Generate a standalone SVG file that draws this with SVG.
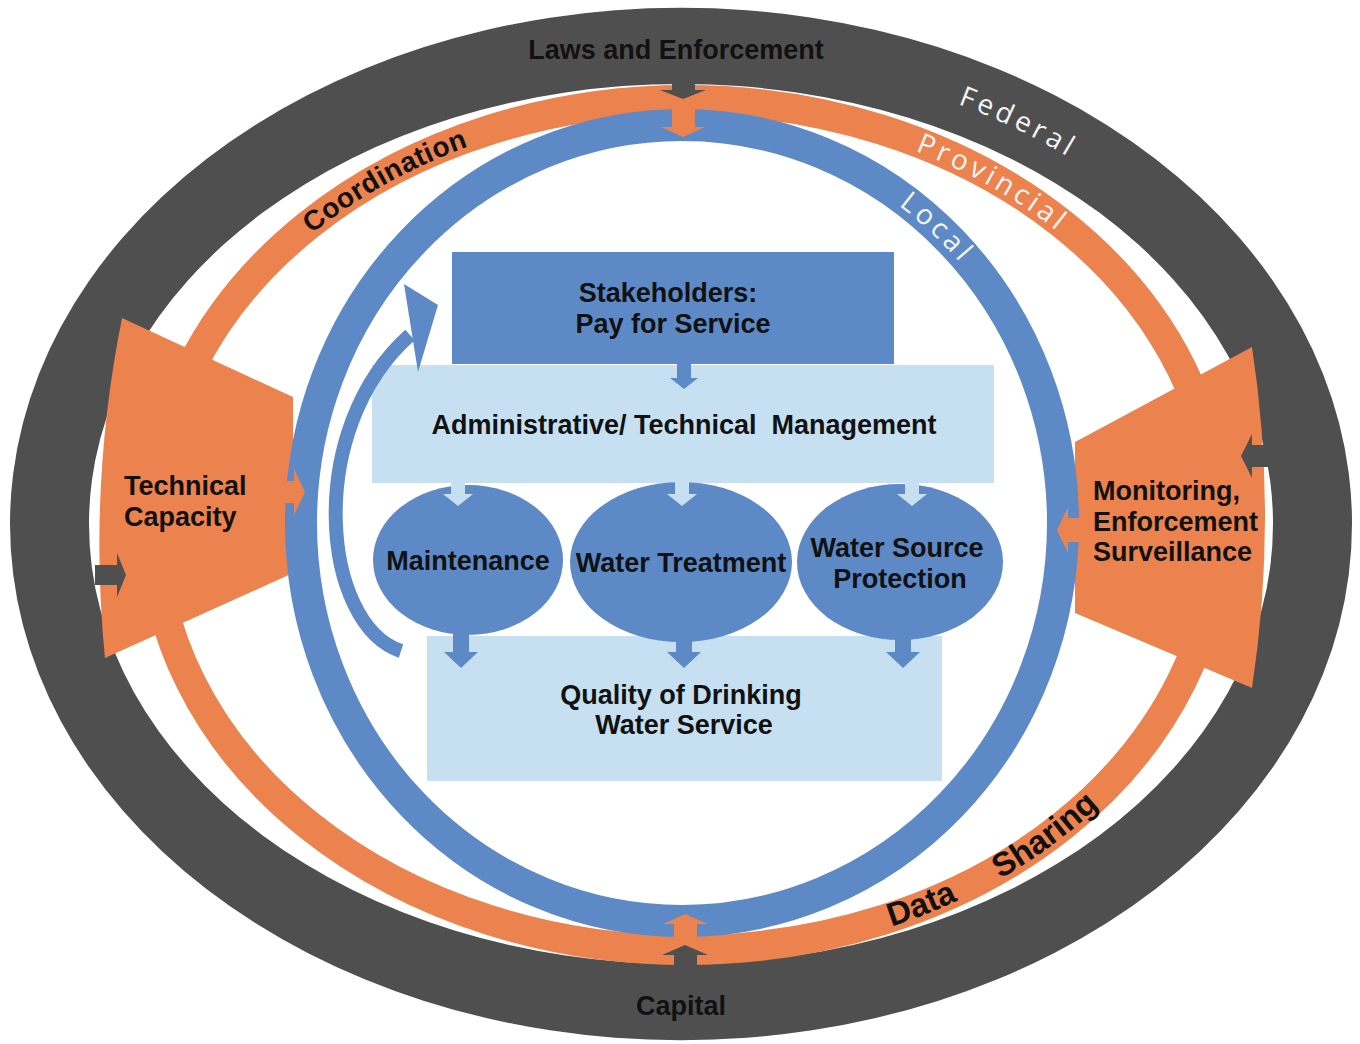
<svg xmlns="http://www.w3.org/2000/svg" width="1360" height="1044" viewBox="0 0 1360 1044">
<style>
.dark{fill:#4f4f4f}
.org{fill:#ec834f}
.blue{fill:#5d89c6}
.light{fill:#c6e0f2}
.lbl{font-family:"Liberation Sans",Arial,sans-serif;font-weight:bold;font-size:27px;fill:#111}
.ring{font-family:"Open Sans","DejaVu Sans",sans-serif;font-size:28px;fill:#f4f4f4;letter-spacing:4px}
.arc{font-family:"Liberation Sans",Arial,sans-serif;font-weight:bold;fill:#111}
</style>
<defs>
<path id="pFederal" d="M 681 55 A 622 469 0 0 1 1235.2 311.1"/>
<path id="pProv" d="M 686 109 A 524 416 0 0 1 1181.4 389.6"/>
<path id="pLocal" d="M 746.8 138.9 A 373 390 0 0 1 1039.4 411.6"/>
<path id="pCoord" d="M 193.6 382.7 A 524 416 0 0 1 686 109"/>
<path id="pData" d="M 704.9 958.7 A 542 434 0 0 0 1113.1 792.2"/>
<path id="pSharing" d="M 817.1 946.1 A 542 434 0 0 0 1207 644.6"/>
</defs>

<g id="rings">
<path id="federal-ring" class="dark" fill-rule="evenodd" d="M 10 524 A 671 516 0 1 0 1352 524 A 671 516 0 1 0 10 524 Z M 89 524 A 592 440 0 1 0 1273 524 A 592 440 0 1 0 89 524 Z"/>
<ellipse id="provincial-ring" cx="686" cy="525" rx="533" ry="425" fill="none" stroke="#ec834f" stroke-width="30"/>
</g>

<g id="technical-capacity">
<path class="org" d="M 122 318 L 293 397 L 293 573 L 105 658 Q 88 488 122 318 Z"/>
<text class="lbl" x="124" y="495">Technical</text>
<text class="lbl" x="124" y="526">Capacity</text>
</g>

<g id="monitoring">
<path class="org" d="M 1252 347 L 1075 442 L 1075 613 L 1252 688 Q 1278 517 1252 347 Z"/>
<text class="lbl" x="1093" y="500">Monitoring,</text>
<text class="lbl" x="1093" y="531">Enforcement</text>
<text class="lbl" x="1093" y="561">Surveillance</text>
</g>

<ellipse id="local-ring" cx="682" cy="523" rx="381" ry="398" fill="none" stroke="#5d89c6" stroke-width="32"/>

<g id="connectors">
<polygon class="org" points="672,98 695,98 695,127 705,127 683,137 661,127 672,127"/>
<polygon class="dark" points="672,60 695,60 695,90 706,90 683,99 660,90 672,90"/>
<polygon class="org" points="674,945 697,945 697,924 708,924 685,914 663,924 674,924"/>
<polygon class="dark" points="674,980 697,980 697,955 708,955 685,945 662,955 674,955"/>
<polygon class="dark" points="95,565 117,565 117,553 126,575 117,597 117,585 95,585"/>
<polygon class="dark" points="1272,445 1252,445 1252,434 1241,456 1252,478 1252,467 1272,467"/>
<polygon class="org" points="280,481 294,481 294,469 305,492 294,515 294,503 280,503"/>
<polygon class="org" points="1082,518 1068,518 1068,507 1057,530 1068,553 1068,542 1082,542"/>
</g>

<g id="labels">
<text class="lbl" x="676" y="59" text-anchor="middle">Laws and Enforcement</text>
<text class="lbl" x="681" y="1015" text-anchor="middle">Capital</text>
<text class="ring"><textPath href="#pFederal" startOffset="54.4%" text-anchor="middle">Federal</textPath></text>
<text class="ring" letter-spacing="3"><textPath href="#pProv" startOffset="52.8%" text-anchor="middle">Provincial</textPath></text>
<text class="ring" letter-spacing="3"><textPath href="#pLocal" startOffset="50%" text-anchor="middle">Local</textPath></text>
<text class="arc" font-size="28" letter-spacing="0.5"><textPath href="#pCoord" startOffset="47.5%" text-anchor="middle">Coordination</textPath></text>
<text class="arc" font-size="33"><textPath href="#pData" startOffset="50%" text-anchor="middle">Data</textPath></text>
<text class="arc" font-size="33"><textPath href="#pSharing" startOffset="50%" text-anchor="middle">Sharing</textPath></text>
</g>

<g id="stakeholders">
<rect class="blue" x="452" y="252" width="442" height="112"/>
<text class="lbl" x="668" y="302" text-anchor="middle">Stakeholders:</text>
<text class="lbl" x="673" y="333" text-anchor="middle">Pay for Service</text>
</g>

<g id="management">
<rect class="light" x="372" y="365" width="622" height="118"/>
<text class="lbl" x="684" y="434" text-anchor="middle" xml:space="preserve">Administrative/ Technical  Management</text>
</g>

<g id="quality">
<rect class="light" x="427" y="636" width="515" height="145"/>
<text class="lbl" x="681" y="704" text-anchor="middle">Quality of Drinking</text>
<text class="lbl" x="684" y="734" text-anchor="middle">Water Service</text>
</g>

<g id="maintenance">
<ellipse class="blue" cx="468" cy="560" rx="95" ry="75"/>
<text class="lbl" x="468" y="570" text-anchor="middle">Maintenance</text>
</g>
<g id="water-treatment">
<ellipse class="blue" cx="681" cy="562" rx="111" ry="80"/>
<text class="lbl" x="681" y="572" text-anchor="middle">Water Treatment</text>
</g>
<g id="water-source">
<ellipse class="blue" cx="900" cy="562" rx="103" ry="78"/>
<text class="lbl" x="897" y="557" text-anchor="middle">Water Source</text>
<text class="lbl" x="900" y="588" text-anchor="middle">Protection</text>
</g>

<g id="flow-arrows">
<polygon class="blue" points="677,363 691,363 691,378 698,378 684,389 670,378 677,378"/>
<polygon class="light" points="451,482 465,482 465,494 473,494 458,506 443,494 451,494"/>
<polygon class="light" points="675,482 689,482 689,494 697,494 682,506 667,494 675,494"/>
<polygon class="light" points="905,482 919,482 919,494 927,494 912,506 897,494 905,494"/>
<polygon class="blue" points="453,628 469,628 469,652 478,652 461,668 444,652 453,652"/>
<polygon class="blue" points="676,635 692,635 692,652 701,652 684,668 667,652 676,652"/>
<polygon class="blue" points="895,632 911,632 911,652 920,652 903,668 886,652 895,652"/>
<path d="M 401 651 C 322 625, 303 430, 410 335" fill="none" stroke="#5d89c6" stroke-width="14"/>
<polygon class="blue" points="404,284 438,305 418,372"/>
</g>
</svg>
